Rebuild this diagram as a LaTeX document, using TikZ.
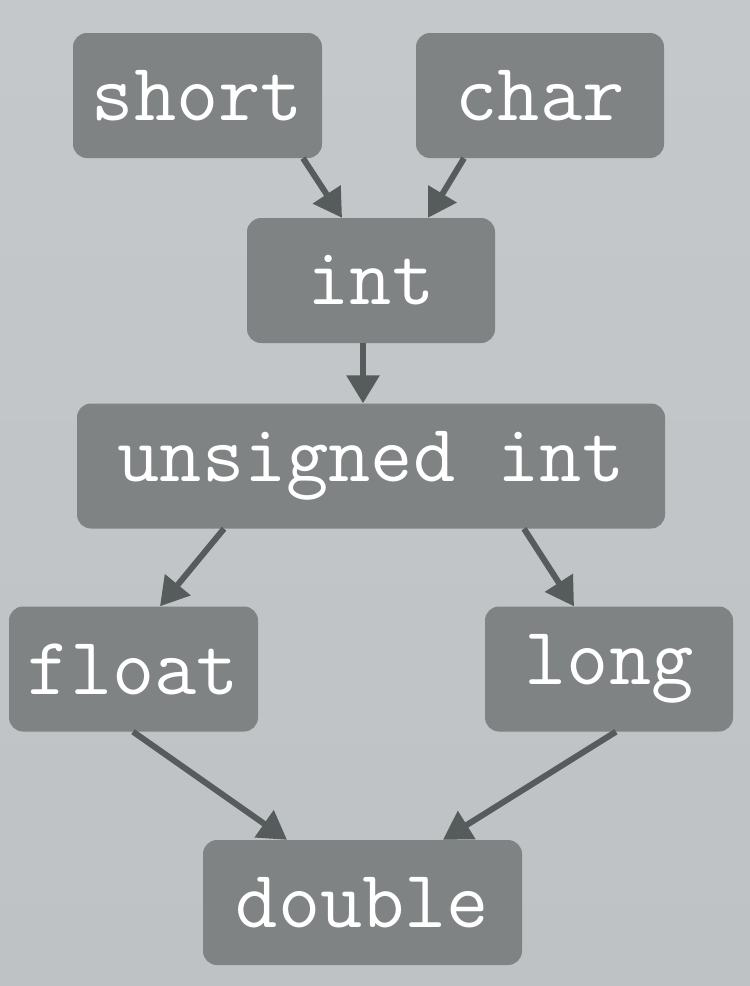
\documentclass[tikz,border=0pt]{standalone}
\usepackage{fontspec}
\usetikzlibrary{arrows.meta}
\definecolor{bgc}{RGB}{190,194,197}
\definecolor{boxc}{RGB}{127,131,131}
\definecolor{arrc}{RGB}{86,91,92}
\begin{document}
\begin{tikzpicture}[x=1pt,y=-1pt,
  tbox/.style={fill=boxc, rounded corners=14pt, inner sep=0pt, text=white,
    font=\ttfamily\fontsize{82}{82}\selectfont, minimum height=125pt},
  conn/.style={draw=arrc, line width=6pt, -{Triangle[length=28pt,width=32pt]}}]
\shade[top color=bgc!90!white, bottom color=bgc, use as bounding box] (0,0) rectangle (750,986);
\node[tbox, minimum width=249pt] (short) at (197.5,95.5) {short};
\node[tbox, minimum width=248pt] (char) at (540,95.5) {char};
\node[tbox, minimum width=248pt] (int) at (371,280.5) {int};
\node[tbox, minimum width=588pt] (uint) at (371,466) {unsigned int};
\node[tbox, minimum width=249pt] (float) at (133.5,669) {float};
\node[tbox, minimum width=248pt] (long) at (609,669) {long};
\node[tbox, minimum width=319pt] (double) at (362.5,902.5) {double};
\draw[conn] (short.south -| 303,0) -- (int.north -| 342,0);
\draw[conn] (char.south -| 464,0) -- (int.north -| 428,0);
\draw[conn] (int.south -| 363,0) -- (uint.north -| 363,0);
\draw[conn] (uint.south -| 224,0) -- (float.north -| 160,0);
\draw[conn] (uint.south -| 524,0) -- (long.north -| 574,0);
\draw[conn] (float.south -| 133,0) -- (double.north -| 287,0);
\draw[conn] (long.south -| 616,0) -- (double.north -| 443,0);
\end{tikzpicture}
\end{document}
